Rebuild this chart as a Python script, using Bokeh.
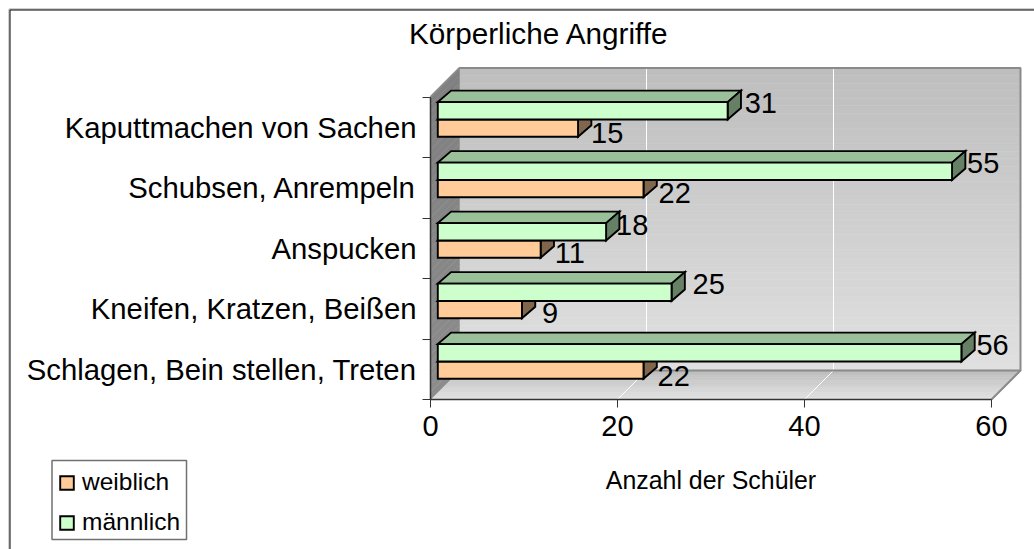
from bokeh.plotting import figure
from bokeh.models import (FixedTicker, Legend, LegendItem, BoxAnnotation, ColumnDataSource, Range1d, Label)
from bokeh.core.properties import value
from bokeh.embed import file_html
from bokeh.resources import INLINE

# --- data (bottom to top)
categories = ["Schlagen, Bein stellen, Treten", "Kneifen, Kratzen, Beißen", "Anspucken",
              "Schubsen, Anrempeln", "Kaputtmachen von Sachen"]
weiblich = [22, 9, 11, 22, 15]
maennlich = [56, 25, 18, 55, 31]
x_ticks = [0, 20, 40, 60]
chart_title = "Körperliche Angriffe"
x_title = "Anzahl der Schüler"

# --- style / geometry
FONT = "Liberation Sans"
W, H = 1034, 549
ORIGIN_X, ORIGIN_Y = 430, 399      # canvas pixel of the axes' origin
PX_X = 9.35
PX_Y = 60.5
WALL_DX = 29 / PX_X
WALL_DY = 29 / PX_Y
BAR_X0 = 7.3 / PX_X
BAR_DX = 13.3 / PX_X
BAR_DY = 11.5 / PX_Y
BAR_H = 17.3 / PX_Y
MALE_TOP = 0.915
W_FRONT, W_TOP, W_SIDE = "#FFCC99", "#BF9973", "#80664D"
M_FRONT, M_TOP, M_SIDE = "#CCFFCC", "#99C099", "#668066"
LINE = dict(line_color="#000000", line_width=1.9, line_join="miter")
# label nudges (pixels from bar end / face top)
W_OFF_X = [14, 20, 14, 15, 13]
W_OFF_Y = [15, 12, 13, 13, 14]
M_OFF_X = [15, 21, 10, 15, 17]
M_OFF_Y = [1, 0, 2, 0, 1]

p = figure(width=W, height=H, output_backend="svg", toolbar_location=None,
           x_range=Range1d(-ORIGIN_X / PX_X, (W - ORIGIN_X) / PX_X),
           y_range=Range1d(-(H - ORIGIN_Y) / PX_Y, ORIGIN_Y / PX_Y),
           min_border=0, background_fill_color="white", border_fill_color="white", outline_line_color=None)
p.grid.visible = False

# outer border (open on the right and bottom)
for inset, col in ((8.5, "#a0a0a0"), (9.5, "#000000")):
    p.add_layout(BoxAnnotation(left=inset, top=inset, right=3000, bottom=3000,
                               left_units="canvas", right_units="canvas",
                               top_units="canvas", bottom_units="canvas",
                               fill_color=None, line_color=col, line_width=1, line_alpha=1,
                               line_dash="solid", level="underlay"))

# legend frame
p.add_layout(BoxAnnotation(left=51.5, top=460, right=186, bottom=539,
                           left_units="canvas", right_units="canvas",
                           top_units="canvas", bottom_units="canvas",
                           fill_color="white", fill_alpha=1, line_color="#707070", line_width=1.5,
                           line_alpha=1, line_dash="solid", level="underlay"))

p.add_layout(Label(x=-21.5 / PX_X, y=(ORIGIN_Y - 33) / PX_Y, text=chart_title, text_font=FONT,
                   text_font_size="29.7px", text_color="#000000", text_baseline="middle", text_align="left"))

def grey(t, a, b):
    v = int(round(a + (b - a) * t))
    return "#%02x%02x%02x" % (v, v, v)

N = 40
xmax = x_ticks[-1]
ymax = len(categories)
# back wall gradient
ys = [WALL_DY + ymax * i / N for i in range(N + 1)]
cols = [grey(i / (N - 1), 0xE0, 0xBE) for i in range(N)]
p.quad(left=WALL_DX, right=WALL_DX + xmax, bottom=ys[:-1], top=ys[1:], fill_color=cols, line_color=cols, line_width=0.5)
# floor gradient
M = 12
fx, fy, fc = [], [], []
for i in range(M):
    a, b = i / M, (i + 1) / M
    fx.append([a * WALL_DX, b * WALL_DX, xmax + b * WALL_DX, xmax + a * WALL_DX])
    fy.append([a * WALL_DY, b * WALL_DY, b * WALL_DY, a * WALL_DY])
    fc.append(grey(i / (M - 1), 0xE2, 0xBE))
p.patches(fx, fy, fill_color=fc, line_color=fc, line_width=0.5)
# side wall
sx, sy, sc = [], [], []
for i in range(N):
    a, b = i / N, (i + 1) / N
    sx.append([0, WALL_DX, WALL_DX, 0])
    sy.append([ymax * a, WALL_DY + ymax * a, WALL_DY + ymax * b, ymax * b])
    sc.append(grey(i / (N - 1), 0x8C, 0x80))
p.patches(sx, sy, fill_color=sc, line_color=sc, line_width=0.5)

# grid lines
gx = [[t, t + WALL_DX, t + WALL_DX] for t in x_ticks[1:-1]]
gy = [[0, WALL_DY, WALL_DY + ymax] for t in x_ticks[1:-1]]
p.multi_line(gx, gy, line_color="#ffffff", line_width=1)

# wall outline
p.multi_line([[0, WALL_DX, WALL_DX + xmax, WALL_DX + xmax, xmax],
              [WALL_DX, WALL_DX + xmax]],
             [[ymax, WALL_DY + ymax, WALL_DY + ymax, WALL_DY, 0],
              [WALL_DY, WALL_DY]],
             line_color="#8a8a8a", line_width=2)

def bar_faces(values, top_frac):
    front_x, front_y, top_x, top_y, side_x, side_y = [], [], [], [], [], []
    for i, v in enumerate(values):
        x0, x1 = BAR_X0, BAR_X0 + v
        yt = i + top_frac
        yb = yt - BAR_H
        front_x.append([x0, x1, x1, x0]); front_y.append([yb, yb, yt, yt])
        top_x.append([x0, x1, x1 + BAR_DX, x0 + BAR_DX]); top_y.append([yt, yt, yt + BAR_DY, yt + BAR_DY])
        side_x.append([x1, x1 + BAR_DX, x1 + BAR_DX, x1]); side_y.append([yb, yb + BAR_DY, yt + BAR_DY, yt])
    return front_x, front_y, top_x, top_y, side_x, side_y

for vals, top_frac, cf, ct, cs, key in (
        (weiblich, MALE_TOP - BAR_H, W_FRONT, W_TOP, W_SIDE, "w"),
        (maennlich, MALE_TOP, M_FRONT, M_TOP, M_SIDE, "m")):
    fx_, fy_, tx_, ty_, sx_, sy_ = bar_faces(vals, top_frac)
    p.patches(tx_, ty_, fill_color=ct, **LINE)
    p.patches(sx_, sy_, fill_color=cs, **LINE)
    r = p.patches(fx_, fy_, fill_color=cf, **LINE)
    if key == "w":
        r_w = r
    else:
        r_m = r

# value labels
for vals, top_frac, ox, oy in ((weiblich, MALE_TOP - BAR_H, W_OFF_X, W_OFF_Y),
                               (maennlich, MALE_TOP, M_OFF_X, M_OFF_Y)):
    src = ColumnDataSource(dict(x=[BAR_X0 + v for v in vals],
                                y=[i + top_frac for i in range(len(vals))],
                                t=[str(v) for v in vals], ox=ox, oy=oy))
    p.text("x", "y", text="t", x_offset="ox", y_offset="oy", source=src,
           text_font=value(FONT), text_font_size="29px", text_color="#000000",
           text_align="left", text_baseline="middle")

# axes (fixed at the origin so that the frame fills the figure)
xa = p.xaxis[0]
xa.fixed_location = 0
xa.ticker = FixedTicker(ticks=x_ticks)
xa.bounds = (0, xmax)
xa.axis_label = x_title
xa.axis_label_text_font = FONT
xa.axis_label_text_font_size = "24.9px"
xa.axis_label_text_font_style = "normal"
xa.axis_label_text_color = "#000000"
xa.axis_label_standoff = 27
xa.major_label_text_font = FONT
xa.major_label_text_font_size = "29px"
xa.major_label_text_color = "#000000"
xa.major_label_standoff = 8
xa.major_tick_in = 0
xa.major_tick_out = 8
xa.minor_tick_out = 0
xa.minor_tick_in = 0
xa.axis_line_color = "#333333"
xa.major_tick_line_color = "#333333"
xa.axis_line_width = 1.5

ya = p.yaxis[0]
ya.fixed_location = 0
centres = [i + 0.5 for i in range(ymax)]
ya.ticker = FixedTicker(ticks=centres, minor_ticks=list(range(ymax + 1)))
ya.major_label_overrides = {c: t for c, t in zip(centres, categories)}
ya.bounds = (0, ymax)
ya.major_tick_in = 0
ya.major_tick_out = 0
ya.minor_tick_in = 0
ya.minor_tick_out = 8
ya.minor_tick_line_color = "#333333"
ya.major_label_standoff = 6
ya.major_label_text_font = FONT
ya.major_label_text_font_size = "29.3px"
ya.major_label_text_color = "#000000"
ya.major_label_text_align = "right"
ya.major_label_text_baseline = "middle"
ya.axis_line_color = "#333333"
ya.axis_line_width = 1.5

legend = Legend(items=[LegendItem(label="weiblich", renderers=[r_w]),
                       LegendItem(label="männlich", renderers=[r_m])],
                location=(58, 13), margin=0, padding=0, spacing=12,
                glyph_width=17, glyph_height=17, label_standoff=7,
                label_text_font=FONT, label_text_font_size="24.5px", label_text_color="#000000",
                border_line_color=None, background_fill_alpha=0)
p.add_layout(legend, "center")

open("out.html", "w").write(file_html(p, INLINE))
